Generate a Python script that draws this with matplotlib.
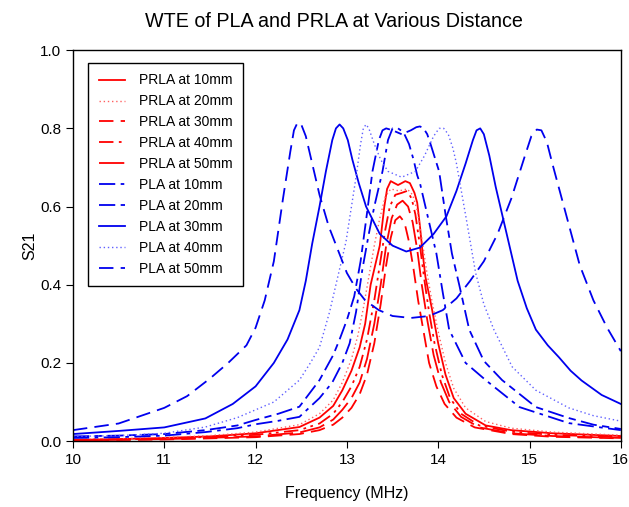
import matplotlib
matplotlib.use('Agg')
import matplotlib.pyplot as plt

plt.rcParams['font.family'] = ['Liberation Sans', 'DejaVu Sans']

# PLA curves (blue)
pla10_f = [10.0, 10.5, 11.0, 11.45, 11.8, 12.0, 12.25, 12.48, 12.7, 12.84, 12.95, 13.03, 13.1, 13.17,
           13.24, 13.3, 13.39, 13.45, 13.5, 13.56, 13.62, 13.68, 13.73, 13.77, 13.8, 13.9, 13.98,
           14.05, 14.12, 14.3, 14.52, 14.89, 15.43, 16.0]
pla10_s = [0.008, 0.010, 0.014, 0.023, 0.033, 0.043, 0.052, 0.062, 0.11, 0.15, 0.20, 0.25, 0.33, 0.44,
           0.53, 0.60, 0.69, 0.77, 0.80, 0.80, 0.79, 0.76, 0.72, 0.68, 0.66, 0.56, 0.48,
           0.38, 0.285, 0.20, 0.156, 0.087, 0.046, 0.028]

pla20_f = [10.0, 10.5, 11.0, 11.45, 11.8, 12.0, 12.25, 12.48, 12.7, 12.85, 12.92, 13.0, 13.08, 13.15,
           13.21, 13.28, 13.35, 13.39, 13.43, 13.5, 13.6, 13.7, 13.76, 13.8, 13.84, 13.88, 13.92,
           14.01, 14.08, 14.15, 14.23, 14.34, 14.5, 14.7, 15.07, 15.43, 15.7, 16.0]
pla20_s = [0.012, 0.014, 0.018, 0.028, 0.040, 0.054, 0.070, 0.088, 0.156, 0.22, 0.26, 0.31, 0.37, 0.46,
           0.565, 0.69, 0.77, 0.795, 0.80, 0.795, 0.785, 0.795, 0.803, 0.805, 0.80, 0.785, 0.757,
           0.69, 0.58, 0.48, 0.40, 0.285, 0.205, 0.156, 0.087, 0.059, 0.042, 0.031]

pla30_f = [10.0, 10.5, 11.0, 11.45, 11.75, 12.0, 12.2, 12.35, 12.48, 12.55, 12.62, 12.7, 12.77, 12.84,
           12.88, 12.92, 12.96, 13.01, 13.06, 13.13, 13.21, 13.36, 13.5, 13.65, 13.8, 13.95, 14.09,
           14.2, 14.3, 14.38, 14.42, 14.46, 14.5, 14.56, 14.63, 14.78, 14.87, 14.97, 15.07, 15.2,
           15.32, 15.45, 15.57, 15.79, 16.0]
pla30_s = [0.018, 0.026, 0.035, 0.058, 0.095, 0.14, 0.20, 0.26, 0.335, 0.41, 0.505, 0.60, 0.69, 0.77,
           0.80, 0.81, 0.80, 0.77, 0.72, 0.66, 0.60, 0.53, 0.50, 0.485, 0.495, 0.53, 0.575,
           0.64, 0.71, 0.77, 0.795, 0.80, 0.785, 0.73, 0.65, 0.50, 0.41, 0.34, 0.285, 0.245,
           0.215, 0.18, 0.155, 0.118, 0.095]

pla40_f = [10.0, 10.5, 11.0, 11.45, 11.8, 12.0, 12.2, 12.48, 12.6, 12.7, 12.81, 12.9, 12.99, 13.05,
           13.1, 13.15, 13.18, 13.21, 13.24, 13.3, 13.37, 13.45, 13.6, 13.75, 13.85, 13.95, 14.01,
           14.06, 14.11, 14.16, 14.2, 14.31, 14.41, 14.5, 14.61, 14.81, 15.07, 15.43, 15.7, 16.0]
pla40_s = [0.012, 0.014, 0.020, 0.036, 0.060, 0.080, 0.10, 0.156, 0.20, 0.24, 0.33, 0.42, 0.51, 0.60,
           0.675, 0.76, 0.80, 0.81, 0.80, 0.76, 0.72, 0.69, 0.675, 0.69, 0.73, 0.78, 0.80,
           0.80, 0.785, 0.75, 0.71, 0.565, 0.43, 0.35, 0.285, 0.19, 0.13, 0.085, 0.065, 0.051]

pla50_f = [10.0, 10.5, 11.0, 11.25, 11.5, 11.7, 11.9, 12.0, 12.1, 12.2, 12.3, 12.38, 12.42, 12.46,
           12.5, 12.55, 12.6, 12.7, 12.8, 12.9, 13.0, 13.1, 13.2, 13.35, 13.5, 13.7, 13.9, 14.05,
           14.2, 14.35, 14.5, 14.65, 14.8, 14.95, 15.02, 15.08, 15.13, 15.19, 15.25, 15.4, 15.55,
           15.7, 15.85, 16.0]
pla50_s = [0.028, 0.045, 0.085, 0.115, 0.160, 0.20, 0.245, 0.29, 0.36, 0.46, 0.62, 0.74, 0.795, 0.815,
           0.81, 0.78, 0.73, 0.63, 0.55, 0.49, 0.43, 0.39, 0.36, 0.335, 0.32, 0.315, 0.32, 0.335,
           0.365, 0.41, 0.46, 0.53, 0.62, 0.73, 0.78, 0.797, 0.795, 0.765, 0.71, 0.58, 0.45,
           0.36, 0.29, 0.23]

# PRLA curves (red)
prla10_f = [10.0, 10.5, 11.0, 11.5, 12.0, 12.48, 12.7, 12.85, 12.95, 13.05, 13.14, 13.2, 13.26, 13.32,
            13.36, 13.41, 13.44, 13.48, 13.56, 13.64, 13.69, 13.74, 13.77, 13.8, 13.83, 13.86, 13.93,
            14.0, 14.08, 14.17, 14.3, 14.52, 14.8, 15.25, 16.0]
prla10_s = [0.003, 0.005, 0.008, 0.012, 0.020, 0.036, 0.060, 0.09, 0.13, 0.18, 0.24, 0.30, 0.40, 0.46,
            0.50, 0.60, 0.645, 0.665, 0.655, 0.665, 0.66, 0.635, 0.61, 0.55, 0.48, 0.42, 0.34,
            0.25, 0.17, 0.11, 0.07, 0.04, 0.028, 0.020, 0.013]

prla20_f = [10.0, 10.5, 11.0, 11.5, 12.0, 12.48, 12.7, 12.85, 12.95, 13.05, 13.12, 13.18, 13.24, 13.3,
            13.36, 13.42, 13.48, 13.57, 13.66, 13.72, 13.77, 13.82, 13.87, 13.93, 14.0, 14.08, 14.17,
            14.3, 14.52, 14.8, 15.25, 16.0]
prla20_s = [0.004, 0.006, 0.009, 0.014, 0.023, 0.042, 0.070, 0.105, 0.15, 0.21, 0.27, 0.34, 0.42, 0.50,
            0.57, 0.625, 0.645, 0.64, 0.645, 0.63, 0.59, 0.52, 0.44, 0.36, 0.28, 0.20, 0.135,
            0.085, 0.050, 0.033, 0.023, 0.015]

prla30_f = [10.0, 11.0, 12.0, 12.48, 12.7, 12.85, 12.95, 13.05, 13.14, 13.22, 13.3, 13.37, 13.43, 13.48,
            13.53, 13.58, 13.63, 13.68, 13.73, 13.78, 13.84, 13.9, 13.98, 14.07, 14.2, 14.4, 14.8,
            15.25, 16.0]
prla30_s = [0.002, 0.004, 0.010, 0.018, 0.028, 0.042, 0.060, 0.085, 0.12, 0.17, 0.25, 0.35, 0.45, 0.52,
            0.565, 0.575, 0.56, 0.51, 0.44, 0.36, 0.28, 0.20, 0.14, 0.095, 0.060, 0.035, 0.018,
            0.011, 0.007]

prla40_f = [10.0, 11.0, 12.0, 12.48, 12.7, 12.85, 12.95, 13.05, 13.14, 13.22, 13.3, 13.36, 13.42, 13.47,
            13.53, 13.6, 13.66, 13.71, 13.75, 13.8, 13.85, 13.9, 13.96, 14.04, 14.13, 14.25, 14.45,
            14.8, 15.25, 16.0]
prla40_s = [0.003, 0.006, 0.016, 0.028, 0.045, 0.070, 0.10, 0.14, 0.19, 0.26, 0.36, 0.45, 0.54, 0.60,
            0.63, 0.635, 0.64, 0.62, 0.58, 0.50, 0.41, 0.33, 0.25, 0.17, 0.11, 0.070, 0.040,
            0.024, 0.016, 0.010]

prla50_f = [10.0, 11.0, 12.0, 12.48, 12.7, 12.85, 12.95, 13.05, 13.14, 13.22, 13.3, 13.37, 13.43, 13.49,
            13.55, 13.61, 13.67, 13.72, 13.77, 13.82, 13.88, 13.95, 14.03, 14.12, 14.25, 14.45, 14.8,
            15.25, 16.0]
prla50_s = [0.002, 0.005, 0.012, 0.022, 0.035, 0.055, 0.08, 0.11, 0.15, 0.21, 0.30, 0.40, 0.50, 0.57,
            0.605, 0.615, 0.60, 0.56, 0.49, 0.40, 0.31, 0.22, 0.15, 0.10, 0.062, 0.035, 0.020,
            0.013, 0.008]

series = [
    ('PRLA at 10mm', prla10_f, prla10_s, 'red', '-', 1.3),
    ('PRLA at 20mm', prla20_f, prla20_s, '#ff6060', (0, (1, 2)), 1.0),
    ('PRLA at 30mm', prla30_f, prla30_s, 'red', (0, (8, 4)), 1.3),
    ('PRLA at 40mm', prla40_f, prla40_s, 'red', (0, (8, 3, 1.5, 2.5, 1.5, 3)), 1.3),
    ('PRLA at 50mm', prla50_f, prla50_s, 'red', (0, (14, 4)), 1.3),
    ('PLA at 10mm', pla10_f, pla10_s, '#0000ee', (0, (9, 3, 2, 3)), 1.3),
    ('PLA at 20mm', pla20_f, pla20_s, '#0000ee', (0, (9, 3, 4, 3)), 1.3),
    ('PLA at 30mm', pla30_f, pla30_s, '#0000ee', '-', 1.3),
    ('PLA at 40mm', pla40_f, pla40_s, '#6060ff', (0, (1, 2)), 1.0),
    ('PLA at 50mm', pla50_f, pla50_s, '#0000ee', (0, (8, 4)), 1.3),
]

fig = plt.figure(figsize=(6.29, 5.07), dpi=100)
ax = fig.add_axes([0.116, 0.130, 0.871, 0.771])
for label, f, s, c, ls, lw in series:
    ax.plot(f, s, color=c, linestyle=ls, linewidth=lw, label=label)

ax.set_xlim(10, 16)
ax.set_ylim(0, 1.0)
ax.set_xticks([10, 11, 12, 13, 14, 15, 16])
ax.set_yticks([0.0, 0.2, 0.4, 0.6, 0.8, 1.0])
ax.set_yticklabels(['0.0', '0.2', '0.4', '0.6', '0.8', '1.0'])
ax.tick_params(direction='out', length=5, labelsize=11, top=False, right=False)
ax.set_xlabel('Frequency (MHz)', fontsize=11.5, labelpad=14)
ax.set_ylabel('S21', fontsize=11.5, labelpad=2)
ax.set_title('WTE of PLA and PRLA at Various Distance', fontsize=14.2, pad=17, x=0.477)
for sp in ax.spines.values():
    sp.set_linewidth(1.0)

leg = ax.legend(loc='upper left', bbox_to_anchor=(0.015, 0.985), fontsize=10, handlelength=1.9,
                labelspacing=0.5, borderpad=0.75, handletextpad=1.0, fancybox=False,
                edgecolor='black', framealpha=1)
leg.get_frame().set_linewidth(1.0)

fig.savefig('out.png', dpi=100)
